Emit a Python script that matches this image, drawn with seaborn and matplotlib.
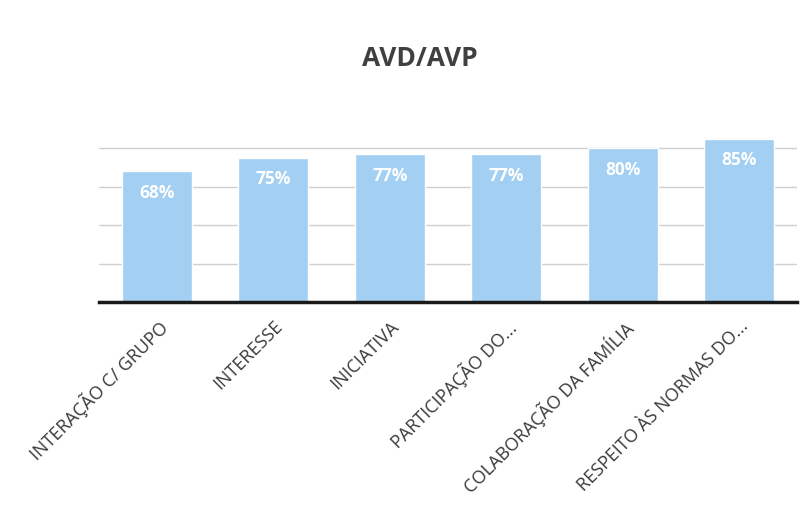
import pandas as pd
import seaborn as sns
import matplotlib.pyplot as plt

# Dados do gráfico
categorias = ['INTERAÇÃO C/ GRUPO', 'INTERESSE', 'INICIATIVA',
              'PARTICIPAÇÃO DO...', 'COLABORAÇÃO DA FAMÍLIA',
              'RESPEITO ÀS NORMAS DO...']
valores = [0.68, 0.75, 0.77, 0.77, 0.80, 0.85]
rotulos = ['68%', '75%', '77%', '77%', '80%', '85%']

df = pd.DataFrame({'categoria': categorias, 'valor': valores})

sns.set_style('white')
plt.rcParams['font.family'] = ['Open Sans', 'DejaVu Sans']

fig = plt.figure(figsize=(8.03, 5.18), dpi=100)
ax = fig.add_axes([0.123, 0.417, 0.870, 0.371])

sns.barplot(x='categoria', y='valor', data=df, color='#a2cff2',
            saturation=1, width=0.6, ax=ax, zorder=2)

# Rótulos dentro das barras
for i, (v, r) in enumerate(zip(valores, rotulos)):
    ax.text(i, v - 0.065, r, ha='center', va='top', color='white',
            fontsize=12.5, fontweight='bold', zorder=3)

ax.set_ylim(0, 1)
ax.set_xlim(-0.5, len(categorias) - 0.5)
ax.set_yticks([0.2, 0.4, 0.6, 0.8])
ax.yaxis.grid(True, color='#cfcfcf', linewidth=1, zorder=0)
ax.set_yticklabels([])
ax.tick_params(axis='y', length=0)
ax.tick_params(axis='x', length=0, pad=11)

for s in ['top', 'right', 'left']:
    ax.spines[s].set_visible(False)
ax.spines['bottom'].set_color('#1a1a1a')
ax.spines['bottom'].set_linewidth(2.5)

ax.set_xlabel('')
ax.set_ylabel('')
plt.setp(ax.get_xticklabels(), rotation=45, ha='right',
         rotation_mode='anchor', fontsize=13, color='#3a3a3a')

fig.text(0.523, 0.888, 'AVD/AVP', ha='center', va='center',
         fontsize=19, fontweight='bold', color='#404040')

plt.savefig('out.png', dpi=100)
